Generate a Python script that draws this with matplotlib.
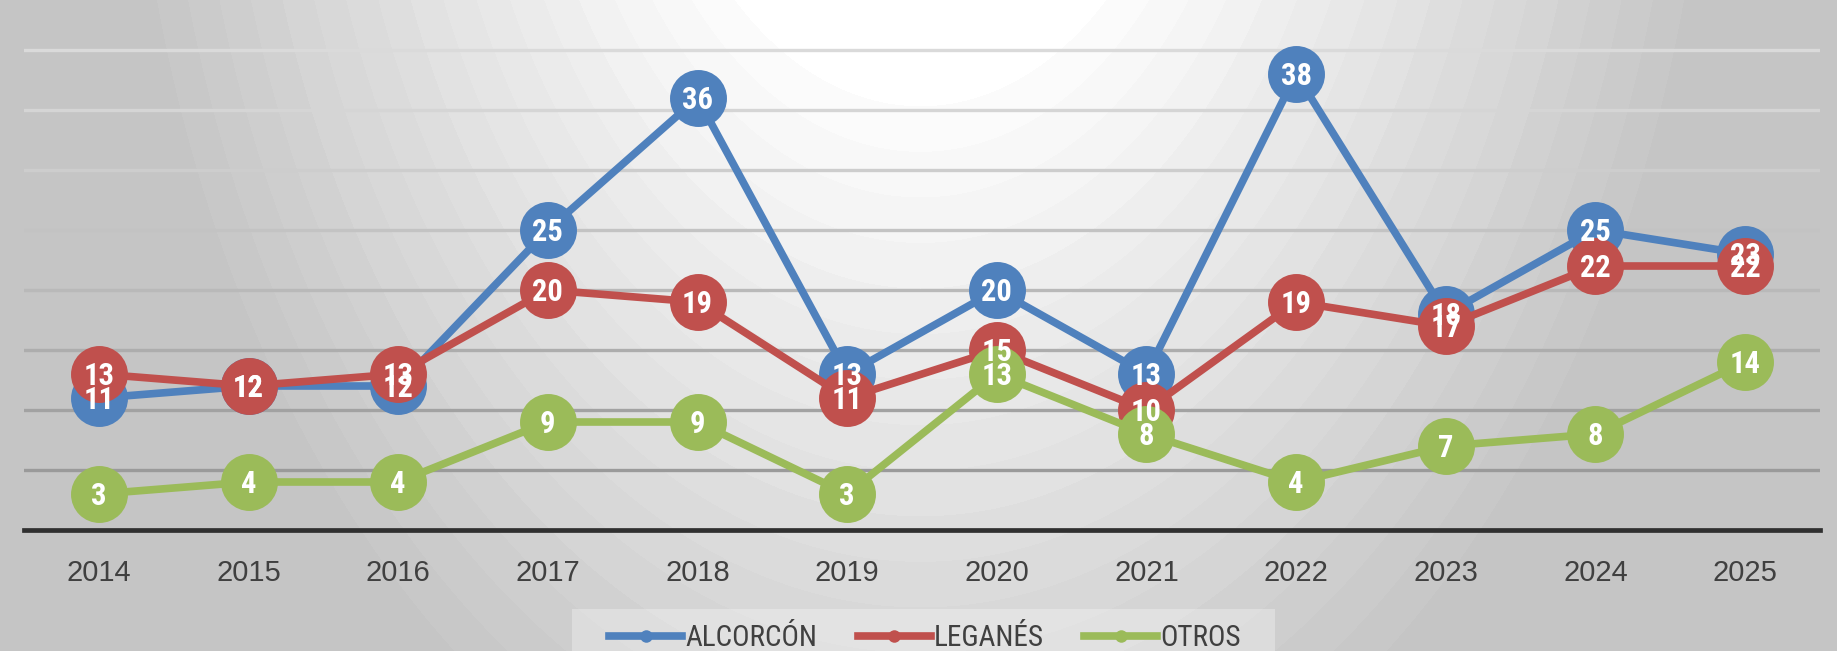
import matplotlib
matplotlib.use("Agg")
import matplotlib.pyplot as plt
from matplotlib import font_manager
from matplotlib.lines import Line2D
from matplotlib.patches import Rectangle
import numpy as np

YEARS = ["2014", "2015", "2016", "2017", "2018", "2019",
         "2020", "2021", "2022", "2023", "2024", "2025"]
ALCORCON = [11, 12, 12, 25, 36, 13, 20, 13, 38, 18, 25, 23]
LEGANES = [13, 12, 13, 20, 19, 11, 15, 10, 19, 17, 22, 22]
OTROS = [3, 4, 4, 9, 9, 3, 13, 8, 4, 7, 8, 14]
SERIES_NAMES = ["ALCORCÓN", "LEGANÉS", "OTROS"]

COLORS = ["#4F81BD", "#C0504D", "#9BBB59"]
TEXT = "#404040"


def _pick_font(names):
    have = {f.name for f in font_manager.fontManager.ttflist}
    for n in names:
        if n in have:
            return n
    return "DejaVu Sans"


NARROW = _pick_font(["Liberation Sans Narrow", "Roboto Condensed", "Liberation Sans"])
REGULAR = _pick_font(["Liberation Sans", "Roboto", "Open Sans"])

W, H = 1837, 651
fig = plt.figure(figsize=(W / 100, H / 100), dpi=100)

# --- radial grey gradient background ---
bg = fig.add_axes([0, 0, 1, 1], zorder=0)
yy, xx = np.mgrid[0:H, 0:W]
r = np.sqrt(((xx - 920) / 0.66) ** 2 + (yy + 320) ** 2)
t = np.clip((r - 403) / 820, 0, 1)
t = np.round(t * 18) / 18  # slight banding like the original
grey = 1.0 - t * (1.0 - 197 / 255)
bg.imshow(np.dstack([grey, grey, grey]), aspect="auto", extent=(0, W, H, 0))
bg.set_xlim(0, W)
bg.set_ylim(H, 0)
bg.axis("off")

# legend box (slightly lighter)
bg.add_patch(Rectangle((572, 609), 703, 50, facecolor="white", alpha=0.3,
                       edgecolor="none"))

# --- main chart ---
ax = fig.add_axes([24 / W, 1 - 530 / H, 1796 / W, 530 / H], zorder=1)
ax.set_facecolor("none")
x = np.arange(len(YEARS))
ax.set_xlim(-0.5, len(YEARS) - 0.5)
ax.set_ylim(0, 530 / 12)

grid_cols = {5: "#9a9a9a", 10: "#a2a2a2", 15: "#adadad", 20: "#b9b9b9",
             25: "#c3c3c3", 30: "#cdcdcd", 35: "#d5d5d5", 40: "#dadada"}
for level, c in grid_cols.items():
    ax.axhline(level, color=c, lw=2.4, zorder=1)
ax.axhline(0, color="#303030", lw=3.4, zorder=2, clip_on=False)

for spine in ax.spines.values():
    spine.set_visible(False)
ax.set_yticks([])
ax.set_xticks(x, YEARS)
ax.tick_params(axis="x", length=0, pad=21, labelsize=21, labelcolor=TEXT)
for lab in ax.get_xticklabels():
    lab.set_family(REGULAR)

all_series = [ALCORCON, LEGANES, OTROS]
for i, (vals, col) in enumerate(zip(all_series, COLORS)):
    ax.plot(x, vals, color=col, lw=5.5, marker="o", markersize=41,
            markeredgewidth=0, solid_joinstyle="round", zorder=3 + i,
            clip_on=False)

for vals in all_series:
    for xi, v in zip(x, vals):
        ax.text(xi, v - 0.2, str(v), ha="center", va="center", color="white",
                fontsize=22, fontweight="bold", family=NARROW, zorder=10)

handles = [Line2D([], [], color=c, lw=5.5, marker="o", markersize=9,
                  markeredgewidth=0) for c in COLORS]
fig.legend(handles, SERIES_NAMES, loc="center", ncol=3,
           bbox_to_anchor=(925 / W, 1 - 638 / H), frameon=False,
           prop={"family": NARROW, "size": 21}, labelcolor=TEXT,
           handlelength=2.5, handletextpad=0.1, columnspacing=1.4,
           borderpad=0)

fig.savefig("out.png", dpi=100)
